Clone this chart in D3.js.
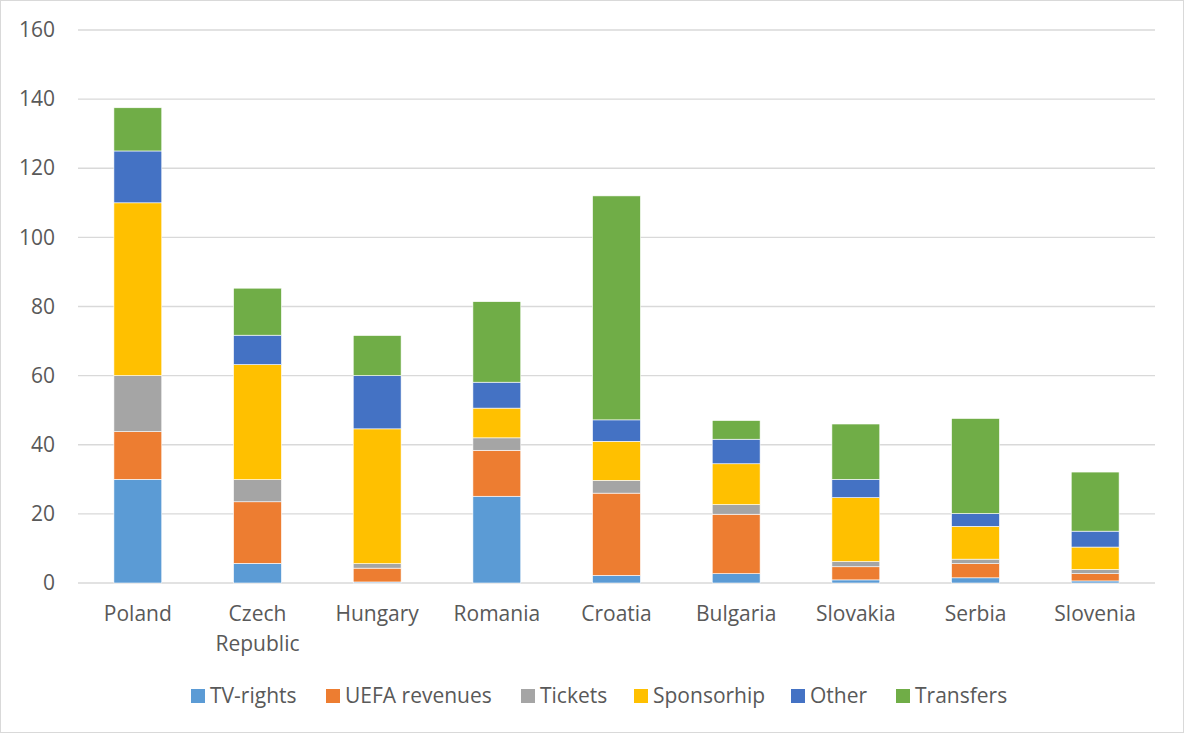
<!DOCTYPE html>
<html><head><meta charset="utf-8">
<script src="https://cdn.jsdelivr.net/npm/d3@7"></script>
<style>body{margin:0;background:#fff;} text{font-family:"Open Sans",sans-serif;fill:#595959;}</style>
</head><body>
<svg id="c" width="1184" height="733"></svg>
<script>
const categories = ["Poland","Czech Republic","Hungary","Romania","Croatia","Bulgaria","Slovakia","Serbia","Slovenia"];
const seriesNames = ["TV-rights","UEFA revenues","Tickets","Sponsorhip","Other","Transfers"];
const tvRights     = [30.0, 5.7, 0.3, 25.1, 2.2, 2.7, 0.9, 1.5, 0.6];
const uefaRevenues = [13.8, 17.8, 4.0, 13.3, 23.8, 17.2, 3.8, 4.1, 2.1];
const tickets      = [16.2, 6.4, 1.3, 3.6, 3.7, 2.8, 1.5, 1.3, 1.2];
const sponsorship  = [50.0, 33.3, 39.0, 8.6, 11.3, 11.8, 18.5, 9.5, 6.5];
const other        = [15.0, 8.5, 15.4, 7.5, 6.2, 7.1, 5.3, 3.7, 4.6];
const transfers    = [12.5, 13.6, 11.6, 23.3, 64.8, 5.4, 16.0, 27.5, 17.1];
const yTicks = [0,20,40,60,80,100,120,140,160];
const colors = ["#5B9BD5","#ED7D31","#A5A5A5","#FFC000","#4472C4","#70AD47"];

const seriesValues = [tvRights, uefaRevenues, tickets, sponsorship, other, transfers];
const rows = categories.map((c,i)=>{const r={cat:c}; seriesNames.forEach((s,j)=>r[s]=seriesValues[j][i]); return r;});
const stack = d3.stack().keys(seriesNames)(rows);

const svg = d3.select("#c");
svg.append("rect").attr("x",0.5).attr("y",0.5).attr("width",1183).attr("height",732)
  .attr("fill","#fff").attr("stroke","#d9d9d9");

const x = d3.scaleBand().domain(categories).range([78,1155]).paddingInner(0.6).paddingOuter(0.3);
const y = d3.scaleLinear().domain([0,160]).range([583,30]);

const grid = svg.append("g");
grid.selectAll("line").data(yTicks).join("line")
  .attr("x1",78).attr("x2",1155).attr("y1",d=>y(d)).attr("y2",d=>y(d))
  .attr("stroke","#d9d9d9").attr("stroke-width",1.3);

const yAxis = svg.append("g").attr("transform","translate(78,0)")
  .call(d3.axisLeft(y).tickValues(yTicks).tickSize(0).tickPadding(23));
yAxis.select(".domain").remove();
yAxis.selectAll("text").style("font-size","21px").attr("fill","#595959").style("font-family","'Open Sans',sans-serif");

svg.append("g").selectAll("g").data(stack).join("g").attr("fill",(d,i)=>colors[i])
  .selectAll("rect").data(d=>d).join("rect")
  .attr("x",d=>x(d.data.cat)).attr("width",x.bandwidth())
  .attr("y",d=>y(d[1])).attr("height",d=>Math.max(0,y(d[0])-y(d[1])))
  .attr("stroke","#fff").attr("stroke-width",0.6);

const xl = svg.append("g");
categories.forEach(c=>{
  const words = c.split(" ");
  const t = xl.append("text").attr("text-anchor","middle").style("font-size","21px")
    .attr("x",x(c)+x.bandwidth()/2).attr("y",621);
  words.forEach((w,i)=>t.append("tspan").attr("x",x(c)+x.bandwidth()/2).attr("dy",i?30:0).text(w));
});

// legend
const legendX = [191,326,521,634,791,896];
const lg = svg.append("g");
seriesNames.forEach((s,i)=>{
  lg.append("rect").attr("x",legendX[i]).attr("y",689).attr("width",14).attr("height",14).attr("fill",colors[i]);
  lg.append("text").attr("x",legendX[i]+19).attr("y",703).style("font-size","21px").text(s);
});
</script>
</body></html>
